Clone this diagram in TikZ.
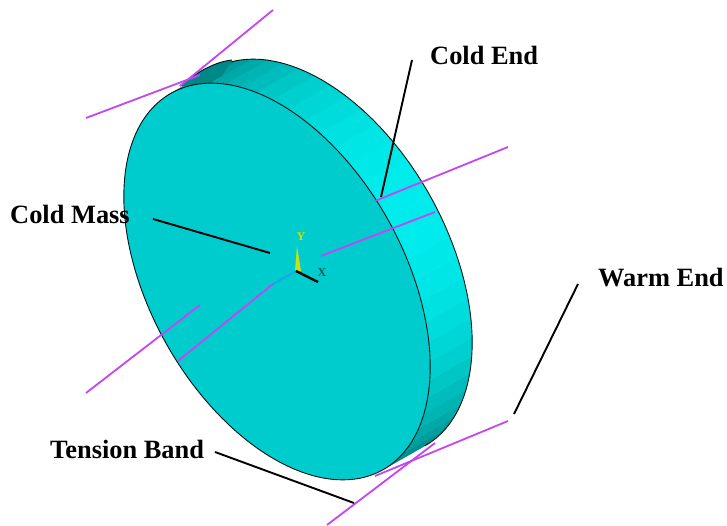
\documentclass[tikz,border=0pt]{standalone}
\usepackage{fontspec}
\setmainfont{Liberation Serif}
\tikzset{
  x=1pt,y=-1pt,
  band/.style={draw=bandc,line width=1.8pt},
  leader/.style={draw=black,line width=1.9pt},
  lab/.style={font=\bfseries\fontsize{26.4}{28}\selectfont,inner sep=0pt,text=black},
  edgeline/.style={draw=black!85!teal,line width=0.9pt}
}
\definecolor{bandc}{RGB}{195,70,240}
\definecolor{frontc}{RGB}{0,204,206}
\definecolor{yax}{RGB}{200,225,20}
\definecolor{zax}{RGB}{20,170,225}
\definecolor{xlab}{RGB}{0,90,95}
\definecolor{darkside}{RGB}{0,135,135}
\begin{document}
\begin{tikzpicture}
\useasboundingbox (0,0) rectangle (727,526);
% side surface facets
\foreach \t [evaluate=\t as \tn using \t+6] in {0,6,...,174}{
  \pgfmathtruncatemacro{\g}{125+112*pow(sin(\t+3),0.9)}
  \definecolor{fc}{RGB}{0,\g,\g}
  \path[fill=fc,draw=fc,line width=0.3pt] ({277+216*cos(\t)*0.49+127*sin(\t)*0.872},{281.5+216*cos(\t)*0.872-127*sin(\t)*0.49})
    -- ({277+216*cos(\tn)*0.49+127*sin(\tn)*0.872},{281.5+216*cos(\tn)*0.872-127*sin(\tn)*0.49})
    -- ({319+216*cos(\tn)*0.49+127*sin(\tn)*0.872},{257.5+216*cos(\tn)*0.872-127*sin(\tn)*0.49})
    -- ({319+216*cos(\t)*0.49+127*sin(\t)*0.872},{257.5+216*cos(\t)*0.872-127*sin(\t)*0.49}) -- cycle;
}
% back rim
\draw[edgeline] plot[domain=0:180,samples=60,smooth] ({319+216*cos(\x)*0.49+127*sin(\x)*0.872},{257.5+216*cos(\x)*0.872-127*sin(\x)*0.49});
% upper-left corner of the side, fuller than the plain ellipse
\fill[darkside] (180,86) .. controls (192,76) and (212,62) .. (232,60) -- (222,76) -- (200,88) -- cycle;
\draw[edgeline] (180,86) .. controls (192,76) and (212,62) .. (232,60);
% front face
\draw[edgeline,fill=frontc] plot[domain=0:360,samples=100,smooth] ({277+216*cos(\x)*0.49+127*sin(\x)*0.872},{281.5+216*cos(\x)*0.872-127*sin(\x)*0.49}) -- cycle;
% tension bands
\coordinate (a1) at (86,118);  \coordinate (a2) at (200,75);
\coordinate (b1) at (273,10);  \coordinate (b2) at (180,86);
\coordinate (c1) at (508,147); \coordinate (c2) at (375,201);
\coordinate (d1) at (435,212); \coordinate (d2) at (321,256);
\coordinate (e1) at (273,284); \coordinate (e2) at (178,361);
\coordinate (f1) at (200,305); \coordinate (f2) at (86,393);
\coordinate (g1) at (508,421); \coordinate (g2) at (375,476);
\coordinate (h1) at (435,443); \coordinate (h2) at (327,525);
\foreach \p/\q in {a1/a2,b1/b2,c1/c2,d1/d2,e1/e2,f1/f2,g1/g2,h1/h2}{
  \draw[band] (\p) -- (\q);
}
% triad
\coordinate (o) at (296,271);
\coordinate (yt) at (297,246);
\coordinate (xt) at (318,282);
\coordinate (zt) at (273,284);
\fill[yax] (yt) -- (301,271) -- (295,271) -- cycle;
\draw[zax,line width=2pt] (o) -- (zt);
\draw[black,line width=2.4pt] (o) -- (xt);
\node[inner sep=0pt,text=yax,font=\bfseries\fontsize{12}{12}\selectfont] (ylab) at (301,237) {Y};
\node[inner sep=0pt,text=xlab,font=\bfseries\fontsize{12}{12}\selectfont] (xlabn) at (322,273) {X};
% labels
\node[lab,anchor=west] (coldend) at (430,55) {Cold End};
\node[lab,anchor=west] (coldmass) at (10,214) {Cold Mass};
\node[lab,anchor=west] (warmend) at (598,278) {Warm End};
\node[lab,anchor=west] (tension) at (50,449) {Tension Band};
% leaders
\coordinate (l1a) at (412,60);  \coordinate (l1b) at (381,197);
\coordinate (l2a) at (153,219); \coordinate (l2b) at (270,253);
\coordinate (l3a) at (578,284); \coordinate (l3b) at (514,414);
\coordinate (l4a) at (215,452); \coordinate (l4b) at (354,503);
\foreach \p/\q in {l1a/l1b,l2a/l2b,l3a/l3b,l4a/l4b}{
  \draw[leader] (\p) -- (\q);
}
\end{tikzpicture}
\end{document}
